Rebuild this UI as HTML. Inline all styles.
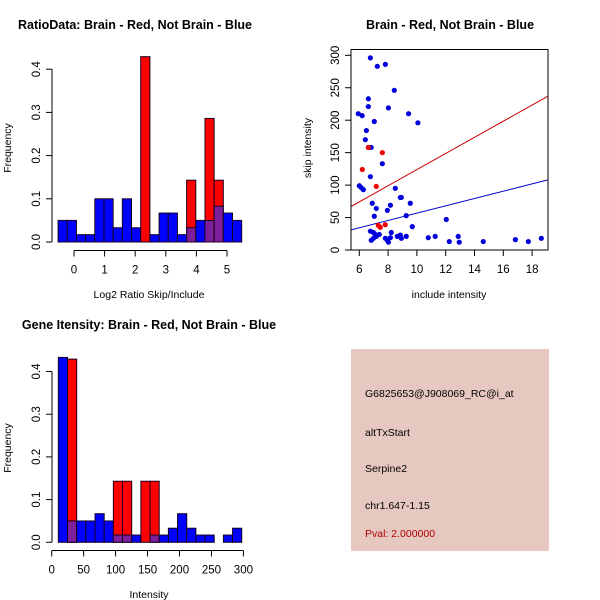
<!DOCTYPE html>
<html><head><meta charset="utf-8"><style>
body{margin:0;background:#fff}
svg{display:block;font-family:"Liberation Sans",sans-serif}
</style></head><body>
<svg id="s" width="600" height="600" viewBox="0 0 600 600"></svg>
<script>
// Panel 1: ratio histogram
const ratioBinStart = -0.52, ratioBinWidth = 0.3;
const ratioBlue = [0.05,0.05,0.017,0.017,0.1,0.1,0.033,0.1,0.033,0,0.017,0.067,0.067,0.017,0.033,0.05,0.05,0.083,0.067,0.05];
const ratioRed  = [0,0,0,0,0,0,0,0,0,0.429,0,0,0,0,0.143,0,0.286,0.143,0,0];
const ratioXTicks = [0,1,2,3,4,5];
const freqTicks = ["0.0","0.1","0.2","0.3","0.4"];
// Panel 3: intensity histogram
const intBinStart = 10.4, intBinWidth = 14.35;
const intBlue = [0.433,0.05,0.05,0.05,0.067,0.05,0.017,0.017,0.017,0,0.017,0.017,0.033,0.067,0.033,0.017,0.017,0,0.017,0.033];
const intRed  = [0,0.429,0,0,0,0,0.143,0.143,0,0.143,0.143,0,0,0,0,0,0,0,0,0];
const intXTicks = [0,50,100,150,200,250,300];
// Panel 2: scatter
const blueX = [6.77,7.25,7.81,8.43,6.63,6.63,8.02,5.93,6.2,9.42,10.07,7.04,6.49,6.42,6.63,6.83,7.6,6.77,6.0,6.14,6.28,8.5,8.85,8.92,6.9,9.54,7.18,8.16,7.95,9.26,7.04,9.68,12.04,6.77,6.98,7.11,7.39,8.22,8.64,8.85,9.26,6.83,6.98,7.18,7.81,7.95,8.02,8.16,8.92,10.79,11.27,12.87,12.25,12.94,14.61,16.84,17.74,18.64];
const blueY = [296,283,286,246,233,221,219,210,207,210,196,198,184,170,158,158,133,113,99,96,93,95,81,81,72,72,64,69,61,53,52,36,47,29,27,24,24,27,21,23,21,15,18,21,18,15,12,19,18,19,21,21,13,12,13,16,13,18];
const redX = [6.21,6.63,7.6,7.18,7.32,7.46,7.8];
const redY = [124,158,150,98,38,35,39];
const redLine = [-0.4, 12.43];   // intercept, slope
const blueLine = [0.5, 5.63];
const scatXTicks = [6,8,10,12,14,16,18];
const scatYTicks = [0,50,100,150,200,250,300];
const infoLines = ["G6825653@J908069_RC@i_at","altTxStart","Serpine2","chr1.647-1.15"];
const pvalText = "Pval: 2.000000";

const S = document.getElementById('s');
const NS = 'http://www.w3.org/2000/svg';
function mk(tag, attrs, parent){const e=document.createElementNS(NS,tag);for(const k in attrs)e.setAttribute(k,attrs[k]);(parent||S).appendChild(e);return e;}
function txt(x,y,s,opt,parent){const e=mk('text',Object.assign({x:x,y:y,'text-anchor':'middle','font-size':11.5,fill:'#000'},opt||{}),parent);e.textContent=s;return e;}

function hist(g, x0px, pxPerUnit, y0, pxPerFreq, binStart, binW, blue, red){
  const xs = v => x0px + v*pxPerUnit;
  for(let i=0;i<blue.length;i++){
    const a = xs(binStart+i*binW), b = xs(binStart+(i+1)*binW);
    const hb = blue[i], hr = red[i];
    const top = Math.max(hb,hr), ov = Math.min(hb,hr);
    if(top<=0) continue;
    const col = hr>hb ? '#ff0000' : '#0000ff';
    const r=mk('rect',{x:a,y:y0-top*pxPerFreq,width:b-a,height:top*pxPerFreq,fill:col,stroke:'#1a0020','stroke-width':1},g);
    
    
    if(ov>0){
      const p=mk('rect',{x:a,y:y0-ov*pxPerFreq,width:b-a,height:ov*pxPerFreq,fill:'#7d1f9b',stroke:'#1a0020','stroke-width':1},g);
      
      
    }
  }
}
function yAxis(g,x,y0,pxPer,labels,step){
  const top=y0-(labels.length-1)*step*pxPer;
  mk('line',{x1:x,y1:y0,x2:x,y2:top,stroke:'#000'},g);
  labels.forEach((l,i)=>{const y=y0-i*step*pxPer;mk('line',{x1:x,y1:y,x2:x-6,y2:y,stroke:'#000'},g);
    txt(x-15,y,l,{transform:`rotate(-90 ${x-15} ${y})`,'dominant-baseline':'middle'},g);});
}
function xAxis(g,y,x0,pxPer,ticks,lo){
  const xs=v=>x0+(v-lo)*pxPer;
  mk('line',{x1:xs(ticks[0]),y1:y,x2:xs(ticks[ticks.length-1]),y2:y,stroke:'#000'},g);
  ticks.forEach(t=>{mk('line',{x1:xs(t),y1:y,x2:xs(t),y2:y+6,stroke:'#000'},g);txt(xs(t),y+23,String(t),{},g);});
}

// Panel 1
let g1=mk('g',{});
txt(135,29,'RatioData: Brain - Red, Not Brain - Blue',{'font-weight':'bold','font-size':12.5},g1);
hist(g1,74,30.6,242,432,ratioBinStart,ratioBinWidth,ratioBlue,ratioRed);
yAxis(g1,52,242,432,freqTicks,0.1);
xAxis(g1,250.5,74,30.6,ratioXTicks,0);
txt(149,298,'Log2 Ratio Skip/Include',{'font-size':10.5},g1);
txt(11,148,'Frequency',{'font-size':10.5,transform:'rotate(-90 11 148)'},g1);

// Panel 3
let g3=mk('g',{});
txt(149,329,'Gene Itensity: Brain - Red, Not Brain - Blue',{'font-weight':'bold','font-size':12.5},g3);
hist(g3,51.7,0.639,542.3,427,intBinStart,intBinWidth,intBlue,intRed);
yAxis(g3,52,542.3,427,freqTicks,0.1);
xAxis(g3,550.5,51.7,0.639,intXTicks,0);
txt(149,598,'Intensity',{'font-size':10.5},g3);
txt(11,448,'Frequency',{'font-size':10.5,transform:'rotate(-90 11 448)'},g3);

// Panel 2
let g2=mk('g',{});
txt(450,29,'Brain - Red, Not Brain - Blue',{'font-weight':'bold','font-size':12.5},g2);
const sx=v=>359.3+(v-6)*14.4, sy=v=>250-v*0.649;
const L=351,R=548,T=49.5,B=250;
const cp=mk('clipPath',{id:'cp'},g2);mk('rect',{x:L,y:T,width:R-L,height:B-T},cp);
const pl=mk('g',{'clip-path':'url(#cp)'},g2);
[[redLine,'#cc0000','red-fit-line'],[blueLine,'#0000cc','blue-fit-line']].forEach(([ln,c,n])=>{
  const x1=5.42,x2=19.1;
  const l=mk('line',{x1:sx(x1),y1:sy(ln[0]+ln[1]*x1),x2:sx(x2),y2:sy(ln[0]+ln[1]*x2),stroke:c,'stroke-width':1},pl);
  
  
});
blueX.forEach((x,i)=>{const c=mk('circle',{cx:sx(x),cy:sy(blueY[i]),r:2.6,fill:'#0000dd'},pl);
  
  });
redX.forEach((x,i)=>{const c=mk('circle',{cx:sx(x),cy:sy(redY[i]),r:2.6,fill:'#ee0000'},pl);
  
  });
mk('rect',{x:L,y:T,width:R-L,height:B-T,fill:'none',stroke:'#000'},g2);
scatXTicks.forEach(t=>{mk('line',{x1:sx(t),y1:B,x2:sx(t),y2:B+6,stroke:'#000'},g2);txt(sx(t),B+23,String(t),{},g2);});
scatYTicks.forEach(t=>{const y=sy(t);mk('line',{x1:L,y1:y,x2:L-6,y2:y,stroke:'#000'},g2);txt(L-15,y,String(t),{transform:`rotate(-90 ${L-15} ${y})`,'dominant-baseline':'middle'},g2);});
txt(449,298,'include intensity',{'font-size':10.5},g2);
txt(311,148,'skip intensity',{'font-size':10.5,transform:'rotate(-90 311 148)'},g2);

// Panel 4
let g4=mk('g',{});
mk('rect',{x:351,y:349,width:198,height:202,fill:'#e6c8c0'},g4);
const ys=[397,436,472,509];
infoLines.forEach((s,i)=>txt(365,ys[i],s,{'text-anchor':'start','font-size':10.5},g4));
txt(365,537,pvalText,{'text-anchor':'start','font-size':10.5,fill:'#aa0000'},g4);
</script>
</body></html>
